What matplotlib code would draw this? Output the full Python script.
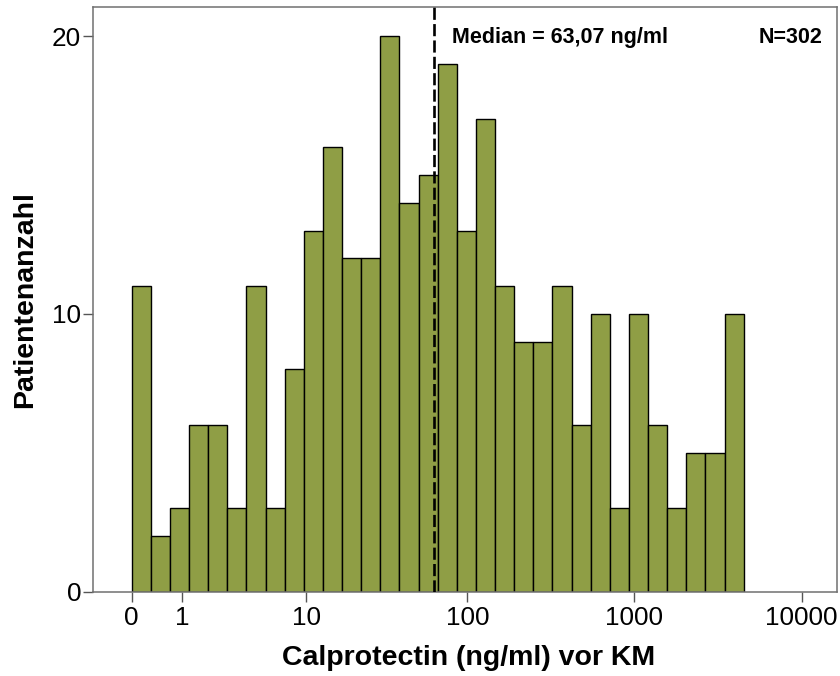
import numpy as np
import matplotlib
matplotlib.use("Agg")
import matplotlib.pyplot as plt

plt.rcParams['font.family'] = ['Liberation Sans', 'DejaVu Sans']

# Patientenanzahl pro Klasse (Klassen gleich breit auf log10(x+1)-Achse)
counts = [11, 2, 3, 6, 6, 3, 11, 3, 8, 13, 16, 12, 12, 20, 14, 15,
          19, 13, 17, 11, 9, 9, 11, 6, 10, 3, 10, 6, 3, 5, 5, 10]
bin_w = 0.1142          # Klassenbreite in log10(x+1)
median = 63.07
n_total = 302
xticks = [0, 1, 10, 100, 1000, 10000]
yticks = [0, 10, 20]


def fwd(x):
    x = np.asarray(x, dtype=float)
    with np.errstate(invalid='ignore', divide='ignore'):
        return np.log10(np.clip(x + 1, 1e-9, None))


def inv(y):
    return 10 ** np.asarray(y, dtype=float) - 1


edges = inv(np.arange(len(counts) + 1) * bin_w)

fig = plt.figure(figsize=(8.4, 6.76), dpi=100)
ax = fig.add_axes([0.1107, 0.125, 0.8857, 0.8646])
ax.set_xscale('function', functions=(fwd, inv))

ax.bar(edges[:-1], counts, width=np.diff(edges), align='edge',
       color='#8f9e45', edgecolor='black', linewidth=1.0, zorder=2)

ax.axvline(median, color='black', lw=1.9, dashes=(4.6, 1.6), zorder=3)

ax.set_xlim(inv(-0.231), inv(4.211))
ax.set_ylim(0, 21.05)
ax.set_xticks(xticks)
ax.set_xticklabels([str(v) for v in xticks])
ax.set_yticks(yticks)
ax.minorticks_off()

for s in ax.spines.values():
    s.set_color('#707070')
    s.set_linewidth(1.1)

ax.tick_params(axis='both', direction='out', length=7.5, width=1.0,
               color='#555555', labelsize=18.8)
ax.tick_params(axis='x', pad=3.0)
ax.tick_params(axis='y', pad=1.0)

ax.set_xlabel('Calprotectin (ng/ml) vor KM', fontsize=20.5,
              fontweight='bold', va='center')
ax.xaxis.set_label_coords(0.505, -0.1138)
ax.set_ylabel('Patientenanzahl', fontsize=20.5, fontweight='bold',
              va='center')
ax.yaxis.set_label_coords(-0.0914, 0.5)

med_txt = 'Median = ' + f'{median:.2f}'.replace('.', ',') + ' ng/ml'
ax.text(0.4825, 0.9384, med_txt, transform=ax.transAxes, ha='left',
        va='baseline', fontsize=15.5, fontweight='bold')
ax.text(0.9812, 0.9384, f'N={n_total}', transform=ax.transAxes,
        ha='right', va='baseline', fontsize=15.5, fontweight='bold')

fig.savefig('out.png', dpi=100)
